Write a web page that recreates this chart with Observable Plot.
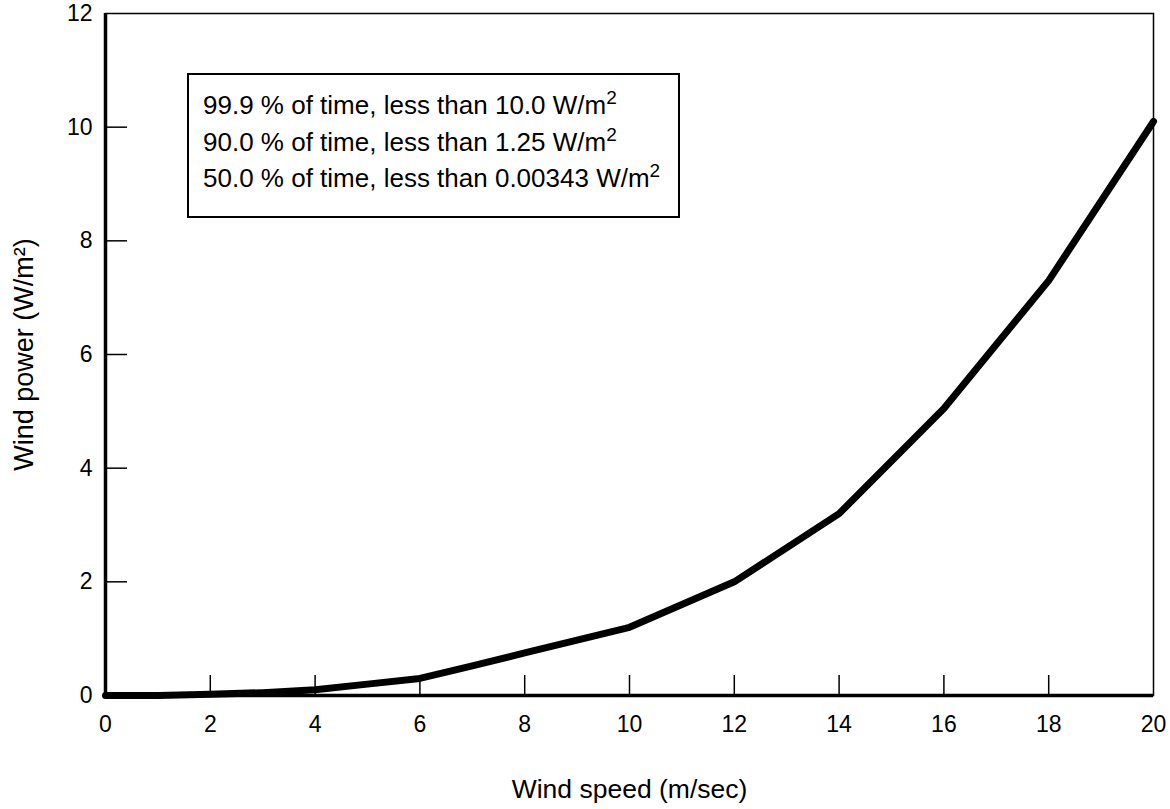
<!DOCTYPE html>
<html>
<head>
<meta charset="utf-8">
<script src="https://cdn.jsdelivr.net/npm/d3@7"></script>
<script src="https://cdn.jsdelivr.net/npm/@observablehq/plot@0.6"></script>
<style>
  html, body { margin: 0; padding: 0; background: #fff; }
  #wrap { position: relative; width: 1170px; height: 809px; font-family: "Liberation Sans", Arial, Helvetica, sans-serif; }
  #legend { position: absolute; left: 187px; top: 73px; width: 489px; height: 141px; border: 2px solid #000; background: #fff;
            font-size: 26px; line-height: 30px; color: #000; box-sizing: content-box; }
  #legend div { position: absolute; left: 14px; white-space: nowrap; }
  #legend sup { font-size: 19px; vertical-align: 0; position: relative; top: -10px; }
</style>
</head>
<body>
<div id="wrap"></div>
<script>
// Wind speed (m/sec) and wind power (W/m^2)
const speed = [0, 1, 2, 3, 4, 5, 6, 7, 8, 10, 12, 14, 16, 18, 20];
const power = [0, 0, 0.02, 0.05, 0.1, 0.2, 0.3, 0.52, 0.75, 1.2, 2.0, 3.2, 5.05, 7.3, 10.1];
const xTicks = [0, 2, 4, 6, 8, 10, 12, 14, 16, 18, 20];
const yTicks = [0, 2, 4, 6, 8, 10, 12];
const legendLines = [
  ["99.9 % of time, less than 10.0 W/m", "2"],
  ["90.0 % of time, less than 1.25 W/m", "2"],
  ["50.0 % of time, less than 0.00343 W/m", "2"]
];

const data = speed.map((s, i) => ({speed: s, power: power[i]}));

const chart = Plot.plot({
  width: 1170,
  height: 809,
  marginLeft: 105,
  marginRight: 17,
  marginTop: 13,
  marginBottom: 114,
  style: {fontFamily: '"Liberation Sans", Arial, Helvetica, sans-serif', fontSize: "23px", color: "#000", background: "#fff"},
  x: {domain: [0, 20]},
  y: {domain: [0, 12]},
  marks: [
    Plot.frame({stroke: "#000", strokeWidth: 1.5}),
    // inward ticks
    Plot.axisX(xTicks.filter(d => d > 0 && d < 20), {tickSize: -20, strokeWidth: 1.5, text: null, label: null}),
    Plot.axisY(yTicks.filter(d => d > 0 && d < 12), {tickSize: -22, strokeWidth: 1.5, text: null, label: null}),
    // tick labels
    Plot.axisX(xTicks, {tickSize: 0, tickPadding: 20, fontSize: 23, tickFormat: "d", label: null}),
    Plot.axisY(yTicks, {tickSize: 0, tickPadding: 13, fontSize: 23, tickFormat: "d", label: null}),
    // axis titles
    Plot.axisX(xTicks, {tickSize: 0, text: null, fontSize: 26.5, label: "Wind speed (m/sec)", labelAnchor: "center", labelArrow: "none", labelOffset: 102}),
    Plot.axisY(yTicks, {tickSize: 0, text: null, fontSize: 27, label: "Wind power (W/m²)", labelAnchor: "center", labelArrow: "none", labelOffset: 92}),
    Plot.ruleX([0], {stroke: "#000", strokeWidth: 3.5}),
    Plot.ruleY([0], {stroke: "#000", strokeWidth: 3.5}),
    Plot.line(data, {x: "speed", y: "power", stroke: "#000", strokeWidth: 7, strokeLinejoin: "round"})
  ]
});

const wrap = document.getElementById("wrap");
wrap.appendChild(chart);
const legend = document.createElement("div");
legend.id = "legend";
legendLines.forEach((l, i) => {
  const d = document.createElement("div");
  d.style.top = (15 + i * 36.6) + "px";
  d.appendChild(document.createTextNode(l[0]));
  const s = document.createElement("sup");
  s.textContent = l[1];
  d.appendChild(s);
  legend.appendChild(d);
});
wrap.appendChild(legend);
</script>
</body>
</html>
